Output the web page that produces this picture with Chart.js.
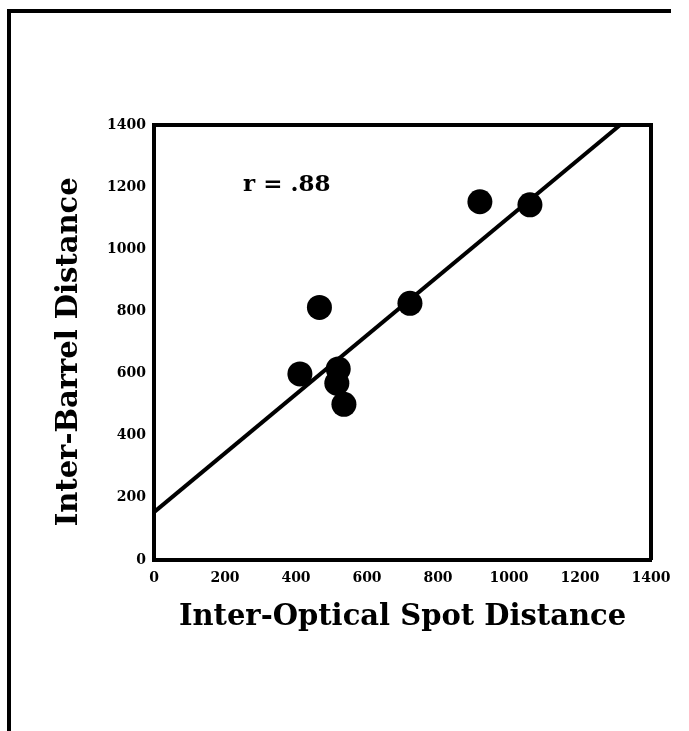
<!DOCTYPE html>
<html>
<head>
<meta charset="utf-8">
<script src="https://cdn.jsdelivr.net/npm/chart.js@4.4.1/dist/chart.umd.min.js"></script>
<style>
  html, body { margin: 0; padding: 0; background: #fff; }
  #wrap { position: relative; width: 689px; height: 731px; overflow: hidden; }
  #frame {
    position: absolute; left: 7px; top: 9px; width: 660px; height: 760px;
    border-top: 4px solid #000; border-left: 4px solid #000; pointer-events: none;
  }
  canvas { position: absolute; left: 0; top: 0; }
</style>
</head>
<body>
<div id="wrap">
  <canvas id="c" width="689" height="731"></canvas>
  <div id="frame"></div>
</div>
<script>
// Inter-optical spot distance (x) vs inter-barrel distance (y), one entry per pair
const spotDistance   = [918, 1059, 466, 721, 411, 519, 515, 535];
const barrelDistance = [1153, 1143, 813, 826, 599, 615, 569, 501];

// Least-squares fit drawn across the plot
const fitX = [0, 1313];
const fitY = [154, 1400];

// Axis ticks
const tickValues = [0, 200, 400, 600, 800, 1000, 1200, 1400];

// Correlation annotation and its anchor in data units
const corrLabel = 'r = .88';
const corrAt = { x: 251, y: 1207 };

const yTitle = 'Inter-Barrel Distance';
const xTitle = 'Inter-Optical Spot Distance';

const TICK_FONT = { family: '"DejaVu Serif", serif', size: 14, weight: 'bold' };
const TITLE_FONT = { family: '"DejaVu Serif", serif', size: 29, weight: 'bold', lineHeight: 1.2 };

// Closes the plot box along its top and right edges
const frameBox = {
  id: 'frameBox',
  afterDraw(chart) {
    const { ctx, chartArea: a } = chart;
    ctx.save();
    ctx.strokeStyle = '#000';
    ctx.lineWidth = 4;
    ctx.beginPath();
    ctx.moveTo(a.left, a.top);
    ctx.lineTo(a.right, a.top);
    ctx.lineTo(a.right, a.bottom);
    ctx.stroke();
    ctx.restore();
  }
};

// Correlation label placed in data space
const corrText = {
  id: 'corrText',
  afterDatasetsDraw(chart) {
    const { ctx, scales } = chart;
    ctx.save();
    ctx.fillStyle = '#000';
    ctx.font = 'bold 23px "DejaVu Serif", serif';
    ctx.textAlign = 'left';
    ctx.textBaseline = 'middle';
    ctx.fillText(corrLabel, scales.x.getPixelForValue(corrAt.x), scales.y.getPixelForValue(corrAt.y));
    ctx.restore();
  }
};

// Vertical axis title, set slightly below the middle of the value axis
const yTitleText = {
  id: 'yTitleText',
  afterDraw(chart) {
    const { ctx, scales } = chart;
    const cy = scales.y.getPixelForValue(670);
    ctx.save();
    ctx.translate(69, cy);
    ctx.rotate(-Math.PI / 2);
    ctx.fillStyle = '#000';
    ctx.font = 'bold 29px "DejaVu Serif", serif';
    ctx.textAlign = 'center';
    ctx.textBaseline = 'middle';
    ctx.fillText(yTitle, 0, 0);
    ctx.restore();
  }
};

const plainTick = v => String(v);

new Chart(document.getElementById('c'), {
  data: {
    datasets: [
      {
        type: 'scatter',
        data: spotDistance.map((x, i) => ({ x, y: barrelDistance[i] })),
        backgroundColor: '#000',
        borderWidth: 0,
        pointRadius: 12.5,
        pointHoverRadius: 12.5
      },
      {
        type: 'line',
        data: fitX.map((x, i) => ({ x, y: fitY[i] })),
        borderColor: '#000',
        borderWidth: 4,
        pointRadius: 0,
        fill: false
      }
    ]
  },
  options: {
    responsive: false,
    animation: false,
    devicePixelRatio: 1,
    layout: { padding: { left: 0, top: 125, right: 38, bottom: 0 } },
    plugins: { legend: { display: false }, tooltip: { enabled: false } },
    scales: {
      x: {
        type: 'linear',
        min: 0, max: 1400,
        afterBuildTicks(s) { s.ticks = tickValues.map(v => ({ value: v })); },
        afterFit(s) { s.height = 171; },
        grid: { display: false, drawTicks: false },
        border: { display: true, color: '#000', width: 4 },
        ticks: { color: '#000', font: TICK_FONT, padding: 10, maxRotation: 0, callback: plainTick },
        title: { display: true, text: xTitle, color: '#000', font: TITLE_FONT, padding: { top: 0, bottom: 96 } }
      },
      y: {
        type: 'linear',
        min: 0, max: 1400,
        afterBuildTicks(s) { s.ticks = tickValues.map(v => ({ value: v })); },
        afterFit(s) { s.width = 154; },
        grid: { display: false, drawTicks: false },
        border: { display: true, color: '#000', width: 4 },
        ticks: { color: '#000', font: TICK_FONT, padding: 8, callback: plainTick },
        title: { display: false }
      }
    }
  },
  plugins: [frameBox, corrText, yTitleText]
});
</script>
</body>
</html>
